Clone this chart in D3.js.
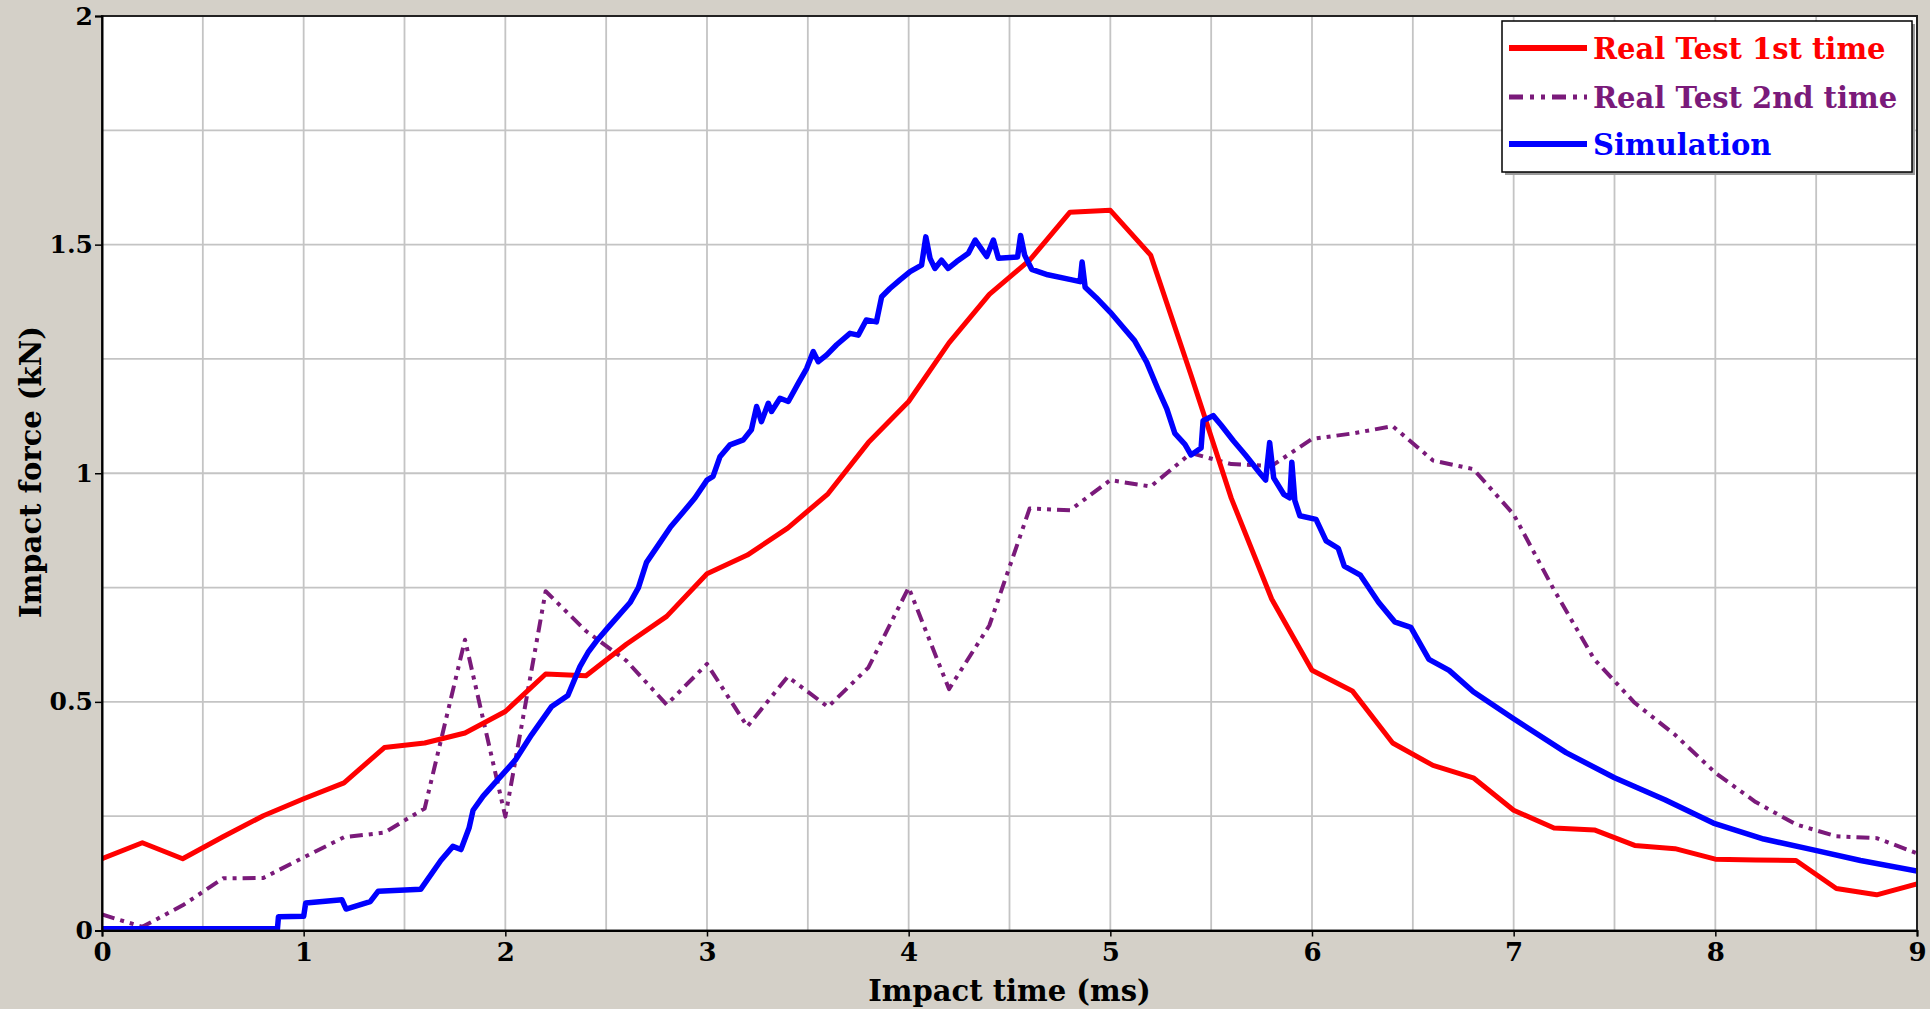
<!DOCTYPE html>
<html>
<head>
<meta charset="utf-8">
<script src="https://cdn.jsdelivr.net/npm/d3@7"></script>
<style>
  html, body { margin: 0; padding: 0; background: #d4d0c8; overflow: hidden; }
  svg { display: block; }
  text { font-family: "DejaVu Serif", "Liberation Serif", serif; font-weight: bold; }
</style>
</head>
<body>
<svg id="chart" width="1930" height="1009"></svg>
<script>
// ---------------- data ----------------
const seriesNames = ["Real Test 1st time", "Real Test 2nd time", "Simulation"];

const testTime = [0, 0.2, 0.4, 0.6, 0.8, 1.0, 1.2, 1.4, 1.6, 1.8, 2.0, 2.2, 2.4, 2.6, 2.8, 3.0,
  3.2, 3.4, 3.6, 3.8, 4.0, 4.2, 4.4, 4.6, 4.8, 5.0, 5.2, 5.4, 5.6, 5.8, 6.0, 6.2, 6.4, 6.6,
  6.8, 7.0, 7.2, 7.4, 7.6, 7.8, 8.0, 8.2, 8.4, 8.6, 8.8, 9.0];

const test1Force = [0.157, 0.192, 0.157, 0.205, 0.251, 0.288, 0.323, 0.400, 0.410, 0.432, 0.479,
  0.561, 0.557, 0.626, 0.687, 0.780, 0.821, 0.880, 0.955, 1.067, 1.157, 1.285, 1.391, 1.466,
  1.571, 1.575, 1.477, 1.215, 0.945, 0.725, 0.569, 0.524, 0.410, 0.361, 0.334, 0.263, 0.224,
  0.220, 0.186, 0.179, 0.156, 0.154, 0.153, 0.092, 0.078, 0.102];

const test2Force = [0.035, 0.008, 0.055, 0.114, 0.115, 0.160, 0.204, 0.214, 0.267, 0.636, 0.249,
  0.742, 0.655, 0.590, 0.494, 0.583, 0.446, 0.555, 0.489, 0.575, 0.750, 0.528, 0.667, 0.923,
  0.919, 0.985, 0.971, 1.044, 1.020, 1.016, 1.075, 1.087, 1.103, 1.028, 1.009, 0.910, 0.745,
  0.593, 0.498, 0.428, 0.345, 0.281, 0.232, 0.206, 0.202, 0.169];

const simTime = [0, 0.87, 0.875, 1.0, 1.01, 1.19, 1.21, 1.33, 1.37, 1.58, 1.68, 1.74, 1.78, 1.82,
  1.84, 1.89, 1.955, 2.05, 2.13, 2.23, 2.31, 2.37, 2.41, 2.45, 2.51, 2.62, 2.66, 2.70, 2.76,
  2.82, 2.88, 2.94, 3.0, 3.03, 3.064, 3.114, 3.18, 3.22, 3.246, 3.27, 3.304, 3.32, 3.362,
  3.403, 3.453, 3.494, 3.527, 3.552, 3.594, 3.643, 3.709, 3.75, 3.79, 3.84, 3.866, 3.907,
  3.957, 4.007, 4.064, 4.085, 4.106, 4.13, 4.163, 4.196, 4.238, 4.296, 4.33, 4.387, 4.42,
  4.445, 4.54, 4.555, 4.575, 4.61, 4.69, 4.81, 4.85, 4.86, 4.875, 4.93,
  5.0, 5.06, 5.12, 5.18, 5.24, 5.28, 5.32, 5.37, 5.40, 5.45, 5.46, 5.51, 5.55, 5.61, 5.67,
  5.74, 5.77, 5.79, 5.81, 5.86, 5.89, 5.90, 5.915, 5.94, 6.02, 6.07, 6.13, 6.16, 6.24, 6.33,
  6.41, 6.49, 6.58, 6.68, 6.8, 7.0, 7.26, 7.5, 7.75, 7.99, 8.24, 8.48, 8.72, 9.0];

const simForce = [0.004, 0.004, 0.030, 0.031, 0.060, 0.067, 0.047, 0.063, 0.086, 0.090, 0.153,
  0.184, 0.177, 0.224, 0.263, 0.294, 0.326, 0.373, 0.428, 0.490, 0.514, 0.577, 0.608, 0.632,
  0.663, 0.718, 0.750, 0.805, 0.844, 0.883, 0.914, 0.946, 0.985, 0.993, 1.036, 1.062, 1.073,
  1.095, 1.146, 1.113, 1.153, 1.135, 1.164, 1.157, 1.197, 1.229, 1.266, 1.244, 1.259, 1.281,
  1.306, 1.302, 1.335, 1.331, 1.386, 1.404, 1.423, 1.441, 1.455, 1.517, 1.470, 1.448, 1.466,
  1.448, 1.463, 1.481, 1.510, 1.474, 1.510, 1.470, 1.473, 1.520, 1.477, 1.446, 1.434, 1.423,
  1.419, 1.462, 1.407, 1.384,
  1.352, 1.321, 1.290, 1.243, 1.180, 1.141, 1.087, 1.063, 1.040, 1.055, 1.115, 1.126, 1.105,
  1.071, 1.040, 1.001, 0.985, 1.067, 0.990, 0.954, 0.946, 1.024, 0.940, 0.907, 0.899, 0.852,
  0.836, 0.797, 0.777, 0.718, 0.675, 0.663, 0.593, 0.569, 0.522, 0.463, 0.389, 0.334, 0.286,
  0.235, 0.200, 0.177, 0.153, 0.130];

const xTickValues = [0, 1, 2, 3, 4, 5, 6, 7, 8, 9];
const yTickValues = [0, 0.5, 1, 1.5, 2];
const yTickLabels = ["0", "0.5", "1", "1.5", "2"];
const xGridValues = [0.5, 1, 1.5, 2, 2.5, 3, 3.5, 4, 4.5, 5, 5.5, 6, 6.5, 7, 7.5, 8, 8.5];
const yGridValues = [0.25, 0.5, 0.75, 1, 1.25, 1.5, 1.75];

const xTitle = "Impact time (ms)";
const yTitle = "Impact force (kN)";

// ---------------- layout ----------------
const W = 1930, H = 1009;
const plot = { left: 102, right: 1917, top: 16, bottom: 930.5 };
const colors = { red: "#ff0000", purple: "#7a1a7a", blue: "#0000ff" };

const svg = d3.select("#chart");
svg.append("rect").attr("width", W).attr("height", H).attr("fill", "#d4d0c8");

const x = d3.scaleLinear().domain([0, 9]).range([plot.left, plot.right]);
const y = d3.scaleLinear().domain([0, 2]).range([plot.bottom, plot.top]);

svg.append("rect")
  .attr("x", plot.left).attr("y", plot.top)
  .attr("width", plot.right - plot.left).attr("height", plot.bottom - plot.top)
  .attr("fill", "#ffffff");

// grid
const grid = svg.append("g").attr("stroke", "#c4c4c4").attr("stroke-width", 1.8);
grid.selectAll("line.gx").data(xGridValues).enter().append("line")
  .attr("x1", d => x(d)).attr("x2", d => x(d))
  .attr("y1", plot.top).attr("y2", plot.bottom);
grid.selectAll("line.gy").data(yGridValues).enter().append("line")
  .attr("y1", d => y(d)).attr("y2", d => y(d))
  .attr("x1", plot.left).attr("x2", plot.right);

// clip
svg.append("clipPath").attr("id", "clip").append("rect")
  .attr("x", plot.left).attr("y", plot.top - 3)
  .attr("width", plot.right - plot.left).attr("height", plot.bottom - plot.top + 3);

const lineGen = d3.line().x(d => x(d[0])).y(d => y(d[1]));
const lines = svg.append("g").attr("clip-path", "url(#clip)").attr("fill", "none")
  .attr("stroke-linejoin", "round");

const test2Data = testTime.map((t, i) => [t, test2Force[i]]);
const test1Data = testTime.map((t, i) => [t, test1Force[i]]);
const simData = simTime.map((t, i) => [t, simForce[i]]);

lines.append("path").datum(test2Data).attr("d", lineGen)
  .attr("stroke", colors.purple).attr("stroke-width", 4)
  .attr("stroke-dasharray", "13,6,4,6,4,6");
lines.append("path").datum(test1Data).attr("d", lineGen)
  .attr("stroke", colors.red).attr("stroke-width", 5);
lines.append("path").datum(simData).attr("d", lineGen)
  .attr("stroke", colors.blue).attr("stroke-width", 5.5);

// frame
svg.append("rect")
  .attr("x", plot.left).attr("y", plot.top)
  .attr("width", plot.right - plot.left).attr("height", plot.bottom - plot.top)
  .attr("fill", "none").attr("stroke", "#222").attr("stroke-width", 2);

// axes
const xAxis = d3.axisBottom(x).tickValues(xTickValues).tickSize(6).tickPadding(6)
  .tickFormat(d3.format("d"));
const gx = svg.append("g").attr("transform", `translate(0,${plot.bottom})`).call(xAxis);
gx.select(".domain").attr("stroke", "#000").attr("stroke-width", 2);
gx.selectAll(".tick line").attr("stroke", "#000").attr("stroke-width", 1.5);
gx.selectAll(".tick text").attr("fill", "#000").style("font-size", "26px")
  .style("font-family", "'DejaVu Serif', serif").style("font-weight", "bold");

const yAxis = d3.axisLeft(y).tickValues(yTickValues).tickSize(7).tickPadding(2)
  .tickFormat((d, i) => yTickLabels[i]);
const gy = svg.append("g").attr("transform", `translate(${plot.left},0)`).call(yAxis);
gy.select(".domain").attr("stroke", "#000").attr("stroke-width", 2);
gy.selectAll(".tick line").attr("stroke", "#000").attr("stroke-width", 1.5);
gy.selectAll(".tick text").attr("fill", "#000").style("font-size", "25px")
  .style("font-family", "'DejaVu Serif', serif").style("font-weight", "bold");

// axis titles
svg.append("text")
  .attr("x", (plot.left + plot.right) / 2).attr("y", 1001)
  .attr("text-anchor", "middle").style("font-size", "29px").attr("fill", "#000")
  .text(xTitle);
svg.append("text")
  .attr("transform", `translate(41,472) rotate(-90)`)
  .attr("text-anchor", "middle").style("font-size", "29px").attr("fill", "#000")
  .text(yTitle);

// legend
const legend = svg.append("g");
legend.append("rect").attr("x", 1505).attr("y", 24).attr("width", 410).attr("height", 151)
  .attr("fill", "#9a9a9a");
legend.append("rect").attr("x", 1502).attr("y", 21).attr("width", 410).attr("height", 151)
  .attr("fill", "#ffffff").attr("stroke", "#000").attr("stroke-width", 1.5);

const legendItems = [
  { name: seriesNames[0], color: colors.red, dash: null, width: 6 },
  { name: seriesNames[1], color: colors.purple, dash: "14,7,4,7,4,7", width: 5 },
  { name: seriesNames[2], color: colors.blue, dash: null, width: 6 }
];
const legendRowY = [48, 97, 144];
legendItems.forEach((it, i) => {
  const ly = legendRowY[i];
  legend.append("line").attr("x1", 1509).attr("x2", 1587).attr("y1", ly).attr("y2", ly)
    .attr("stroke", it.color).attr("stroke-width", it.width)
    .attr("stroke-dasharray", it.dash);
  legend.append("text").attr("x", 1593).attr("y", ly + 11)
    .attr("fill", it.color).style("font-size", "29px").text(it.name);
});
</script>
</body>
</html>
